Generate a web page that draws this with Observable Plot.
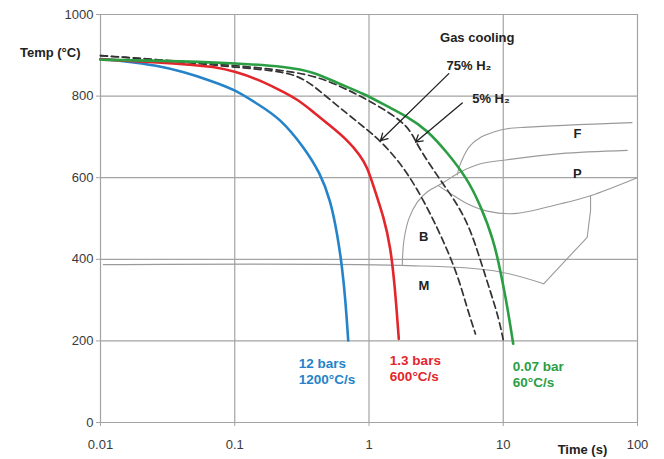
<!DOCTYPE html>
<html>
<head>
<meta charset="utf-8">
<script src="https://cdn.jsdelivr.net/npm/d3@7"></script>
<script src="https://cdn.jsdelivr.net/npm/@observablehq/plot@0.6"></script>
<style>
  html, body { margin: 0; padding: 0; background: #fff; }
  #chart svg { display: block; }
</style>
</head>
<body>
<div id="chart"></div>
<script>
// ---- data: [time (s), temperature (°C)] ----
const blueCurve = [[0.01,891],[0.0149,886],[0.0264,875],[0.0417,859],[0.066,838],[0.1,816],[0.147,781],[0.219,745],[0.327,675],[0.435,610],[0.517,544],[0.58,463],[0.631,381],[0.668,299],[0.70,201]];
const redCurve = [[0.01,890],[0.0149,887],[0.0264,883],[0.0468,877],[0.074,871],[0.1,860],[0.147,842],[0.207,818],[0.292,793],[0.388,760],[0.517,727],[0.688,693],[0.864,654],[0.97,626],[1.086,577],[1.289,503],[1.446,430],[1.549,340],[1.622,258],[1.667,205]];
const greenCurve = [[0.01,889],[0.0264,887],[0.1,881],[0.246,872],[0.388,859],[0.58,832],[0.915,806],[1.366,775],[1.925,750],[2.71,717],[3.82,662],[5.39,598],[6.77,532],[8.51,446],[9.54,370],[10.7,287],[11.86,193]];
const dashed75 = [[0.01,899],[0.0149,896],[0.0264,889],[0.1,871],[0.246,860],[0.347,838],[0.488,797],[0.688,757],[0.915,724],[1.218,691],[1.82,626],[2.56,544],[3.41,461],[4.55,365],[5.39,279],[6.21,217]];
const dashed5 = [[0.01,899],[0.0264,889],[0.0783,878],[0.1846,867],[0.3666,853],[0.58,828],[0.915,796],[1.366,763],[1.925,728],[2.22,691],[2.418,667],[3.41,593],[4.55,536],[5.70,473],[6.77,397],[8.04,320],[9.27,255],[9.99,203]];

// transformation lines (CCT diagram)
const ferriteLine = [[91,735],[15.1,724],[10.7,720],[8.5,712],[6.8,699],[5.7,679],[5.1,654],[4.7,626],[4.55,607]];
const pearliteLine = [[83.8,667],[26.7,659],[10.7,644],[6.77,634],[4.8,614],[3.61,589],[2.71,565],[2.29,540],[1.98,499],[1.82,446],[1.77,385]];
const lowerLine = [[99.5,600],[44.7,556],[26.7,536],[12,512],[7.6,518],[5.4,536],[4.05,561],[3.3,580]];
const noseLine = [[44.7,556],[44.7,520],[42.2,454],[20,340]];
const martensiteLine = [[0.0105,387],[1.716,385],[8.51,372],[20,340]];

// arrows: [x1, y1, x2, y2]
const arrows = [[3.93,855,1.218,691],[4.95,783,2.22,687]];

// labels
const phaseLabels = [{t:35.7,T:708,s:"F"},{t:35.7,T:610,s:"P"},{t:2.56,T:456,s:"B"},{t:2.56,T:336,s:"M"}];
const curveLabels = [
  {t:0.30, T:127, s:"12 bars\n1200°C/s", c:"#2483c9"},
  {t:1.43, T:134, s:"1.3 bars\n600°C/s", c:"#e3262b"},
  {t:11.78, T:120, s:"0.07 bar\n60°C/s", c:"#2b9e44"}
];
const gasLabels = [{t:3.78,T:875,s:"75% H₂"},{t:5.87,T:793,s:"5% H₂"}];

const xTicks = [0.01, 0.1, 1, 10, 100];
const xTickLabels = ["0.01", "0.1", "1", "10", "100"];
const yTicks = [0, 200, 400, 600, 800, 1000];

const gridColor = "#a3a3a3";
const cctColor = "#9a9a9a";

const plot = Plot.plot({
  width: 664,
  height: 459,
  marginLeft: 100,
  marginRight: 27,
  marginTop: 14,
  marginBottom: 37,
  style: {fontFamily: "'Liberation Sans', Arial, sans-serif", fontSize: "13px", background: "#fff"},
  x: {type: "log", domain: [0.01, 100]},
  y: {domain: [0, 1000]},
  marks: [
    Plot.ruleY(yTicks, {stroke: gridColor, strokeWidth: 1.2}),
    Plot.ruleX(xTicks, {stroke: gridColor, strokeWidth: 1.2}),
    Plot.axisY({ticks: yTicks, tickFormat: d => String(d), tickSize: 4, tickPadding: 3, stroke: gridColor, fill: "#3a3a3a", fontSize: 13, label: null}),
    Plot.axisX({ticks: xTicks, tickFormat: d => xTickLabels[xTicks.indexOf(d)] ?? String(d), tickSize: 4, tickPadding: 13, stroke: gridColor, fill: "#3a3a3a", fontSize: 13, label: null}),
    // CCT diagram lines
    Plot.line(ferriteLine, {x: d => d[0], y: d => d[1], stroke: cctColor, strokeWidth: 1.1, curve: "catmull-rom"}),
    Plot.line(pearliteLine, {x: d => d[0], y: d => d[1], stroke: cctColor, strokeWidth: 1.1, curve: "catmull-rom"}),
    Plot.line(lowerLine, {x: d => d[0], y: d => d[1], stroke: cctColor, strokeWidth: 1.1, curve: "catmull-rom"}),
    Plot.line(noseLine, {x: d => d[0], y: d => d[1], stroke: cctColor, strokeWidth: 1.1}),
    Plot.line(martensiteLine, {x: d => d[0], y: d => d[1], stroke: cctColor, strokeWidth: 1.1, curve: "catmull-rom"}),
    // cooling curves
    Plot.line(dashed75, {x: d => d[0], y: d => d[1], stroke: "#333", strokeWidth: 1.7, strokeDasharray: "7,4", curve: "basis"}),
    Plot.line(dashed5, {x: d => d[0], y: d => d[1], stroke: "#333", strokeWidth: 1.7, strokeDasharray: "7,4", curve: "basis"}),
    Plot.line(blueCurve, {x: d => d[0], y: d => d[1], stroke: "#2483c9", strokeWidth: 2.6, curve: "basis"}),
    Plot.line(redCurve, {x: d => d[0], y: d => d[1], stroke: "#e3262b", strokeWidth: 2.6, curve: "basis"}),
    Plot.line(greenCurve, {x: d => d[0], y: d => d[1], stroke: "#2b9e44", strokeWidth: 2.6, curve: "basis"}),
    // arrows
    Plot.arrow(arrows, {x1: d => d[0], y1: d => d[1], x2: d => d[2], y2: d => d[3], stroke: "#222", strokeWidth: 1.3, headLength: 9}),
    // texts
    Plot.text(phaseLabels, {x: "t", y: "T", text: "s", fontWeight: "bold", fontSize: 13, fill: "#222"}),
    Plot.text(curveLabels, {x: "t", y: "T", text: "s", fill: "c", fontWeight: "bold", fontSize: 13.5, textAnchor: "start", lineHeight: 1.2}),
    Plot.text(gasLabels, {x: "t", y: "T", text: "s", fontWeight: "bold", fontSize: 13, textAnchor: "start", fill: "#222"}),
    Plot.text(["Gas cooling"], {x: 6.4, y: 944, text: d => d, fontWeight: "bold", fontSize: 13, fill: "#222"}),
    Plot.text(["Temp (°C)"], {x: 0.01, y: 905, text: d => d, dx: -20, textAnchor: "end", fontWeight: "bold", fontSize: 13, fill: "#222"}),
    Plot.text(["Time (s)"], {x: 38.9, y: -66, text: d => d, fontWeight: "bold", fontSize: 13, fill: "#222"})
  ]
});
document.getElementById("chart").appendChild(plot);
</script>
</body>
</html>
